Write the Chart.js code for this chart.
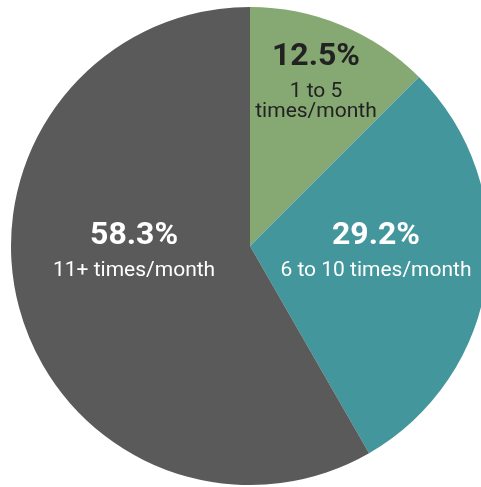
<!DOCTYPE html>
<html>
<head>
<meta charset="utf-8">
<script src="https://cdn.jsdelivr.net/npm/chart.js@4/dist/chart.umd.min.js"></script>
<style>
    html, body { margin: 0; padding: 0; background: #fff; overflow: hidden; }
    #wrap { width: 500px; height: 487px; }
</style>
</head>
<body>
<div id="wrap"><canvas id="pieChart" width="500" height="487"></canvas></div>
<script>
// -- Data --
const categories = ['1 to 5\ntimes/month', '6 to 10 times/month', '11+ times/month'];
const shares = [12.5, 29.2, 58.3];
const sliceColors = ['#86a873', '#43969b', '#5a5a5a'];
const textColors = ['#222222', '#ffffff', '#ffffff'];

// label anchor per slice, as a fraction of the radius from the centre
const labelOffsets = [[0.276, -0.757], [0.527, -0.008], [-0.485, -0.008]];

// -- Plugin: percent + category text inside each slice --
const sliceLabels = {
    id: 'sliceLabels',
    afterDatasetsDraw(chart) {
        const ctx = chart.ctx;
        const meta = chart.getDatasetMeta(0);
        ctx.save();
        ctx.textAlign = 'center';
        ctx.textBaseline = 'alphabetic';
        meta.data.forEach((arc, i) => {
            const r = arc.outerRadius;
            const x = arc.x + labelOffsets[i][0] * r;
            const y = arc.y + labelOffsets[i][1] * r;
            ctx.fillStyle = textColors[i];
            ctx.font = 'bold 32px Roboto';
            ctx.fillText(shares[i].toFixed(1) + '%', x, y);
            ctx.font = '21px Roboto';
            const lines = categories[i].split('\n');
            lines.forEach((line, j) => {
                ctx.fillText(line, x, y + 32 + j * 20);
            });
        });
        ctx.restore();
    }
};

const ctx = document.getElementById('pieChart').getContext('2d');
new Chart(ctx, {
    type: 'pie',
    data: {
        labels: categories,
        datasets: [{
            data: shares,
            backgroundColor: sliceColors,
            borderWidth: 0
        }]
    },
    options: {
        responsive: false,
        animation: false,
        layout: { padding: { top: 7, bottom: 2, left: 11, right: 11 } },
        plugins: {
            legend: { display: false },
            tooltip: { enabled: false }
        }
    },
    plugins: [sliceLabels]
});
</script>
</body>
</html>
